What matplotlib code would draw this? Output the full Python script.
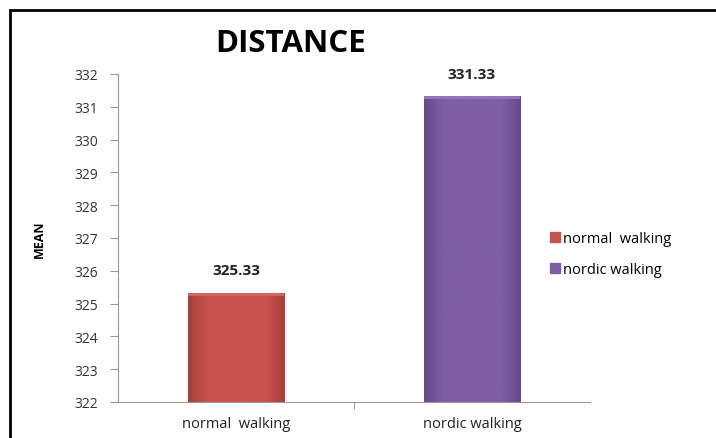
import numpy as np
import matplotlib.pyplot as plt
from matplotlib.patches import Rectangle
from matplotlib.colors import LinearSegmentedColormap

categorias = ["normal  walking", "nordic walking"]
medias = [325.33, 331.33]
etiquetas = ["325.33", "331.33"]
leyenda = ["normal  walking", "nordic walking"]
colores = ["#C8524F", "#7E5FA6"]
claros = ["#D4625F", "#9174BA"]
oscuros = ["#A8403D", "#654A8A"]
yticks = list(range(322, 333))

plt.rcParams['font.family'] = ['Open Sans', 'DejaVu Sans']

fig = plt.figure(figsize=(7.16, 4.39), dpi=100)
# marco del grafico
fig.patches.append(Rectangle((10/716, -0.1), 1.2, 1 - 11/439 + 0.1, transform=fig.transFigure,
                             fill=False, edgecolor='black', linewidth=2))

ax = fig.add_axes([118/716, 1 - 403/439, 472/716, 328/439])
x = np.arange(len(categorias))
ancho = 0.41
barras = ax.bar(x, [m - 322 for m in medias], width=ancho, bottom=322, color=colores,
                edgecolor='none', label=leyenda)

# degradado suave para imitar el estilo de excel
for b, c, cl, os_ in zip(barras, colores, claros, oscuros):
    cmap = LinearSegmentedColormap.from_list('g', [os_, c, c, c, c, os_])
    grad = np.linspace(0, 1, 100).reshape(1, -1)
    x0, y0 = b.get_x(), b.get_y()
    im = ax.imshow(grad, cmap=cmap, aspect='auto',
                   extent=[x0, x0 + b.get_width(), y0, y0 + b.get_height()], zorder=2)
    im.set_clip_path(b)
    # borde superior mas claro
    ax.add_patch(Rectangle((x0, y0 + b.get_height() - 0.09), b.get_width(), 0.09,
                           color=cl, zorder=3, linewidth=0))

for b, e in zip(barras, etiquetas):
    ax.annotate(e, (b.get_x() + b.get_width() / 2, b.get_y() + b.get_height()),
                xytext=(0, 11), textcoords='offset points', ha='center', va='bottom',
                fontsize=11, fontweight='bold', color='#222222')

ax.set_xlim(-0.5, 1.5)
ax.set_ylim(322, 332)
ax.set_yticks(yticks)
ax.set_xticks([0.5])
ax.set_xticklabels([''])
for i, c in enumerate(categorias):
    ax.text(i, 321.35, c, ha='center', va='center', fontsize=10.5, color='#222222')
ax.tick_params(axis='y', colors='#999999', labelcolor='#333333', labelsize=10,
               length=5.5, pad=9)
ax.tick_params(axis='x', colors='#999999', length=5)
for s in ['top', 'right']:
    ax.spines[s].set_visible(False)
for s in ['left', 'bottom']:
    ax.spines[s].set_color('#999999')

ax.set_ylabel('MEAN', fontsize=9, fontweight='bold', labelpad=20)
fig.text(291/716, 1 - 44/439, 'DISTANCE', ha='center', va='center', fontsize=22.5,
         fontweight='bold')

h = [Rectangle((0, 0), 1, 1, color=c) for c in colores]
ax.legend(h, leyenda, loc='center left', bbox_to_anchor=(550/716, 1 - 255/439),
          bbox_transform=fig.transFigure, frameon=False, fontsize=10.5,
          handlelength=0.7, handleheight=0.7, handletextpad=0.2, labelspacing=1.1,
          borderaxespad=0, borderpad=0)

fig.savefig('out.png', dpi=100)
